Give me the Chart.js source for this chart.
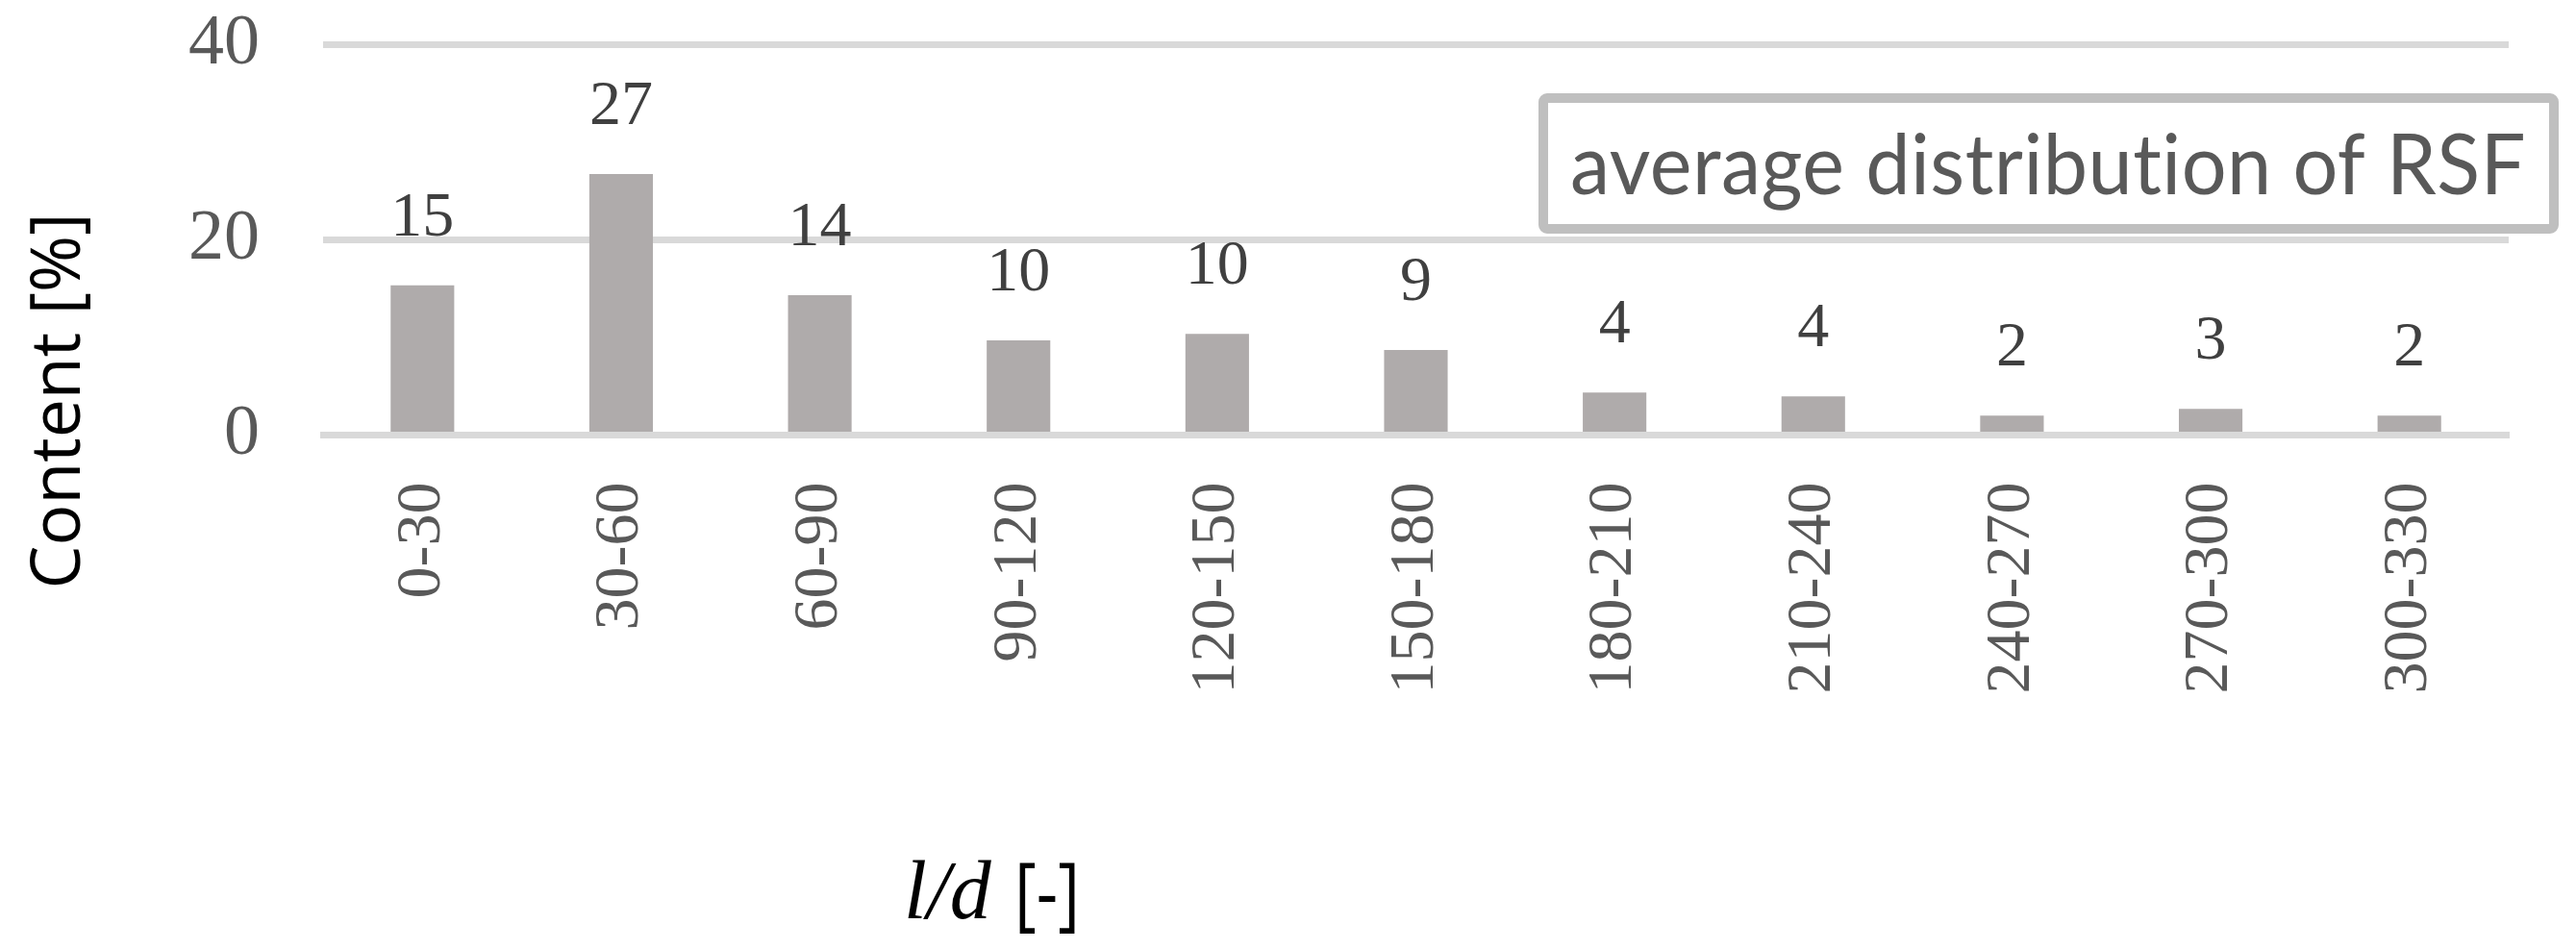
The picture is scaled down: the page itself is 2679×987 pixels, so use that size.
<!DOCTYPE html>
<html>
<head>
<meta charset="utf-8">
<title>average distribution of RSF</title>
<script src="https://cdn.jsdelivr.net/npm/chart.js@4.4.1/dist/chart.umd.min.js"></script>
<style>
    html, body { margin: 0; padding: 0; background: #ffffff; }
    #wrap { position: relative; width: 2679px; height: 987px; }
</style>
</head>
<body>
<div id="wrap"><canvas id="chart"></canvas></div>
<script>
// l/d classes (x axis)
const categories = ['0-30', '30-60', '60-90', '90-120', '120-150', '150-180',
                    '180-210', '210-240', '240-270', '270-300', '300-330'];
// content per class [%]
const contentValues = [15.35, 26.75, 14.33, 9.70, 10.38, 8.71, 4.37, 3.97, 2.0, 2.69, 2.0];
// y axis ticks
const yTicks = [0, 20, 40];

const seriesName = 'average distribution of RSF';
const yTitle = 'Content [%]';
const xTitleVar = 'l/d';
const xTitleUnit = '[-]';

const GREY_TEXT = '#595959';
const GRID = '#d9d9d9';

// draws text squeezed/stretched horizontally to a given width
function fitText(ctx, text, x, y, width) {
    const w = ctx.measureText(text).width;
    ctx.save();
    ctx.translate(x, y);
    ctx.scale(width / w, 1);
    ctx.fillText(text, 0, 0);
    ctx.restore();
}

// value labels, legend box and axis titles
const annotations = {
    id: 'annotations',
    afterDatasetsDraw(chart) {
        const ctx = chart.ctx;
        const meta = chart.getDatasetMeta(0);
        const values = chart.data.datasets[0].data;
        ctx.save();
        ctx.font = '66px "Liberation Serif"';
        ctx.fillStyle = '#404040';
        ctx.textAlign = 'center';
        ctx.textBaseline = 'alphabetic';
        meta.data.forEach((bar, i) => {
            ctx.fillText(String(Math.round(values[i])), bar.x, bar.y - 52);
        });
        ctx.restore();
    },
    afterDraw(chart) {
        const ctx = chart.ctx;
        ctx.save();

        // legend box (text only, no swatch)
        ctx.strokeStyle = '#bfbfbf';
        ctx.lineWidth = 10;
        ctx.beginPath();
        ctx.roundRect(1605, 102, 1051, 136, 4);
        ctx.stroke();
        ctx.fillStyle = GREY_TEXT;
        ctx.font = '88px "Lato"';
        ctx.letterSpacing = '0.5px';   // keeps Lato from joining "ti"
        ctx.textAlign = 'left';
        ctx.textBaseline = 'alphabetic';
        fitText(ctx, chart.data.datasets[0].label, 1633, 202, 994);
        ctx.letterSpacing = '0px';

        // y axis title
        ctx.fillStyle = '#000000';
        ctx.font = '72px "Open Sans"';
        ctx.save();
        ctx.translate(83, 417);
        ctx.rotate(-Math.PI / 2);
        ctx.textAlign = 'center';
        const tw = ctx.measureText(yTitle).width;
        ctx.scale(391 / tw, 1);
        ctx.fillText(yTitle, 0, 0);
        ctx.restore();

        // x axis title: italic variable + unit
        ctx.textAlign = 'left';
        ctx.font = 'italic 86px "Liberation Serif"';
        ctx.fillText(xTitleVar, 940, 955);
        ctx.font = '500 84px "Open Sans"';
        fitText(ctx, xTitleUnit, 1055, 958, 68);

        ctx.restore();
    }
};

function buildChart() {
    const ctx = document.getElementById('chart');
    new Chart(ctx, {
        type: 'bar',
        data: {
            labels: categories,
            datasets: [{
                label: seriesName,
                data: contentValues,
                backgroundColor: '#afabab',
                barPercentage: 0.32,
                categoryPercentage: 1.0
            }]
        },
        options: {
            responsive: true,
            maintainAspectRatio: false,
            animation: false,
            layout: { padding: { top: 46.5, right: 70, bottom: 0, left: 0 } },
            plugins: {
                legend: { display: false },
                tooltip: { enabled: false }
            },
            scales: {
                x: {
                    grid: { display: false },
                    border: { display: true, color: GRID, width: 7, z: 1 },
                    ticks: {
                        color: GREY_TEXT,
                        font: { family: 'Liberation Serif', size: 66 },
                        minRotation: 90,
                        maxRotation: 90,
                        autoSkip: false,
                        padding: 41
                    },
                    afterFit: (scale) => { scale.height = 987 - 452.5; }
                },
                y: {
                    min: yTicks[0],
                    max: yTicks[yTicks.length - 1],
                    ticks: {
                        stepSize: yTicks[1] - yTicks[0],
                        color: GREY_TEXT,
                        font: { family: 'Liberation Serif', size: 74, lineHeight: 1 },
                        padding: 0
                    },
                    // invisible tick marks give the gap between labels and plot
                    grid: {
                        color: GRID,
                        lineWidth: 7,
                        drawTicks: true,
                        tickLength: 66,
                        tickColor: 'rgba(0,0,0,0)'
                    },
                    border: { display: false },
                    afterFit: (scale) => { scale.width = 336; }
                }
            }
        },
        plugins: [annotations]
    });
}

Promise.all([
    document.fonts.load('66px "Liberation Serif"'),
    document.fonts.load('italic 86px "Liberation Serif"'),
    document.fonts.load('72px "Open Sans"'),
    document.fonts.load('88px "Lato"')
]).catch(() => {}).then(buildChart);
</script>
</body>
</html>
